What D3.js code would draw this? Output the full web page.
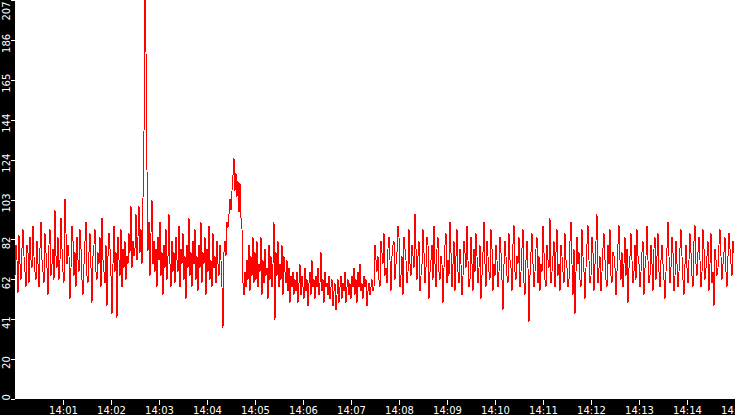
<!DOCTYPE html>
<html>
<head>
<meta charset="utf-8">
<script src="https://cdn.jsdelivr.net/npm/d3@7"></script>
<style>
  body { margin: 0; background: #fff; }
  svg { display: block; }
</style>
</head>
<body>
<div class="canva"></div>
<script>
// one reading every 1.25 s from 14:00:00
const startTime = new Date(2020, 0, 1, 14, 0, 0)
const stepMs = 1250

const values = [
  64,80,72,55,85,70,62,78,88,74,66,58,80,76,60,84,72,68,90,74,
  66,62,82,70,58,78,92,72,66,60,86,76,68,54,80,88,64,70,78,62,
  98,74,68,84,62,72,94,78,66,60,104,86,70,80,74,52,68,90,82,64,
  76,58,84,72,66,88,78,62,54,70,82,92,64,60,76,86,68,50,74,80,
  88,66,62,76,70,84,58,94,72,66,60,80,48,74,86,78,64,44,70,90,
  66,76,42,84,72,64,88,58,78,68,82,62,74,70,86,76,100,68,82,74,
  78,96,72,84,100,76,88,70,104,138,207,180,119,77,92,64,86,103,70,82,
  66,78,58,84,72,92,64,76,54,80,68,88,62,74,96,70,58,82,66,76,
  60,84,72,66,90,58,78,70,86,62,74,52,80,68,94,64,76,58,82,70,
  88,62,74,56,80,68,92,60,76,70,84,54,78,66,90,62,72,58,86,68,
  74,60,82,70,64,80,72,58,37,76,82,74,92,89,96,104,98,108,116,125,
  108,117,105,113,97,112,94,88,60,54,66,58,72,62,80,56,74,64,84,60,
  76,62,82,58,70,66,84,54,72,60,78,64,68,52,80,62,74,58,70,92,
  41,76,64,82,58,70,62,80,54,74,66,60,72,56,68,50,64,58,66,54,
  62,56,66,50,60,70,54,64,58,52,68,56,62,48,60,66,54,72,58,62,
  52,64,58,68,54,60,76,56,62,50,66,58,60,54,64,52,58,62,48,56,
  60,46,54,62,50,58,64,52,60,56,66,50,58,62,54,60,52,64,58,68,
  54,62,50,66,58,70,56,60,52,64,58,62,48,56,60,54,58,62,56,58,
  80,72,66,74,62,58,82,76,70,86,64,68,60,78,84,72,56,74,80,82,
  62,70,76,90,84,58,64,74,54,84,78,72,60,66,88,70,64,80,74,68,
  96,78,62,74,82,56,64,70,88,76,60,68,84,80,52,66,72,80,62,90,
  70,58,78,84,66,62,74,70,50,68,80,86,60,72,64,92,76,58,70,82,
  56,74,88,66,60,78,70,54,64,82,76,68,90,72,58,62,84,70,56,78,
  66,86,74,60,68,80,52,64,76,92,70,58,82,74,66,62,88,78,56,70,
  64,80,72,58,66,84,76,62,46,70,82,74,64,60,86,72,68,56,80,90,
  66,62,74,70,84,58,66,78,88,60,54,72,82,68,40,64,76,86,70,58,
  66,78,84,60,74,56,70,66,90,76,62,58,80,72,68,94,60,66,74,82,
  58,76,88,64,70,56,80,74,66,60,86,72,68,58,62,82,92,70,54,78,
  44,66,84,70,76,62,58,88,74,66,52,68,80,90,72,60,64,84,76,56,
  70,82,96,60,68,74,56,66,78,86,72,62,58,80,70,88,64,60,76,74,
  68,54,66,80,90,72,62,76,58,70,84,64,78,50,68,74,86,72,60,66,
  80,62,88,74,70,58,66,76,82,54,68,74,90,72,60,64,80,70,56,78,
  84,62,74,86,66,58,72,80,70,62,52,66,78,92,74,60,68,84,76,56,
  64,82,70,58,66,78,88,74,62,54,70,80,68,60,72,86,76,64,58,82,
  90,70,64,76,84,72,58,66,88,78,62,68,74,82,56,70,86,60,66,48,
  78,72,64,68,80,88,74,62,70,76,84,66,58,74,86,78,70,64,82,76
]

// y ticks are tenths of the max, labels rounded down
const yMax = 207
const yTickValues = d3.range(0, 11).map(i => yMax * i / 10)
const xTickValues = d3.timeMinute.range(new Date(2020, 0, 1, 14, 1), new Date(2020, 0, 1, 14, 16))

const width = 735
const height = 415
const margin = { top: 0, right: 0, bottom: 16, left: 15 }

const svg = d3.select('.canva').append('svg')
              .attr('width', width)
              .attr('height', height)

const data = values.map((v, i) => ({ t: new Date(startTime.getTime() + i * stepMs), v: v }))

const x = d3.scaleTime()
            .domain([startTime, new Date(startTime.getTime() + 15 * 60000)])
            .range([margin.left, width - margin.right])

const y = d3.scaleLinear()
            .domain([0, yMax])
            .range([height - margin.bottom, margin.top])

// black axis bands
svg.append('rect')
   .attr('x', 0).attr('y', 0)
   .attr('width', margin.left).attr('height', height)
   .attr('fill', '#000')
svg.append('rect')
   .attr('x', 0).attr('y', height - margin.bottom)
   .attr('width', width).attr('height', margin.bottom)
   .attr('fill', '#000')

// the red line
const line = d3.line()
               .x(d => x(d.t))
               .y(d => y(d.v))

svg.append('path')
   .datum(data)
   .attr('d', line)
   .attr('fill', 'none')
   .attr('stroke', '#ff0000')
   .attr('stroke-width', 1)
   .attr('shape-rendering', 'crispEdges')

// x axis
const xAxis = svg.append('g')
   .attr('transform', `translate(0,${height - margin.bottom + 1})`)
   .call(d3.axisBottom(x)
           .tickValues(xTickValues)
           .tickFormat(d3.timeFormat('%H:%M'))
           .tickSize(5))
xAxis.select('.domain').remove()
xAxis.selectAll('line').attr('stroke', '#fff').attr('shape-rendering', 'crispEdges')
xAxis.selectAll('text')
     .attr('y', 14)
     .attr('dy', 0)
     .attr('fill', '#fff')
     .style('font', '10px "DejaVu Sans"')

// y axis with rotated labels
const yAxis = svg.append('g')
   .attr('transform', `translate(${margin.left},0)`)
   .call(d3.axisLeft(y)
           .tickValues(yTickValues)
           .tickFormat(d => Math.floor(d))
           .tickSize(4))
yAxis.select('.domain').remove()
yAxis.selectAll('line').attr('stroke', '#fff').attr('shape-rendering', 'crispEdges')
yAxis.selectAll('text')
     .attr('x', 0)
     .attr('dy', 0)
     .attr('fill', '#fff')
     .attr('text-anchor', 'middle')
     .attr('transform', 'translate(-5,3) rotate(-90)')
     .style('font', '10px "DejaVu Sans"')

// keep first and last labels inside the band
yAxis.selectAll('text').filter(d => d === 0)
     .attr('text-anchor', 'start')
     .attr('transform', 'translate(-5,1) rotate(-90)')
yAxis.selectAll('text').filter(d => d === yMax)
     .attr('text-anchor', 'end')
     .attr('transform', 'translate(-5,1) rotate(-90)')
</script>
</body>
</html>
